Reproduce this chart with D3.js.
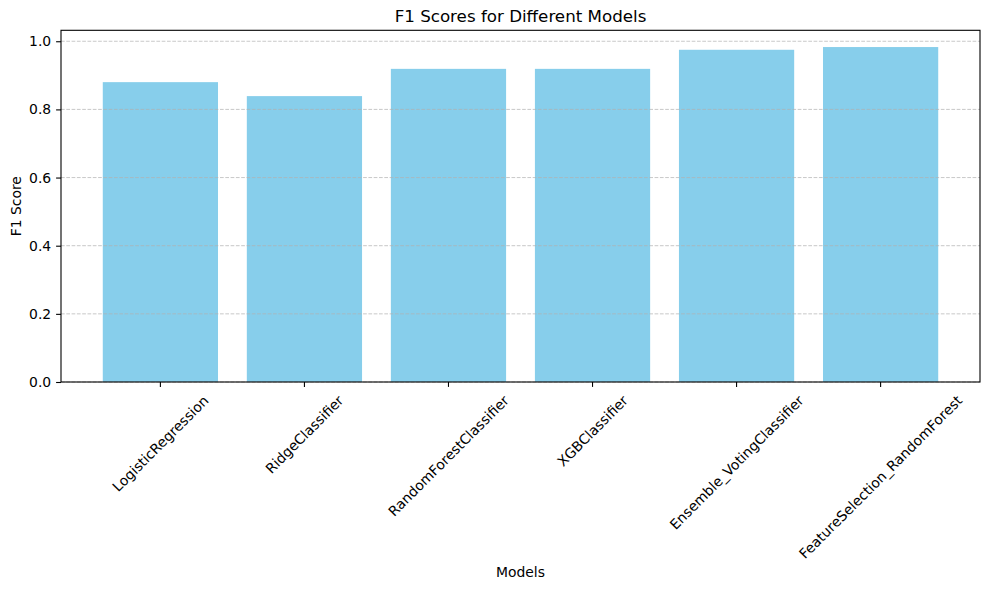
<!DOCTYPE html>
<html>
<head>
<meta charset="utf-8">
<script src="https://cdn.jsdelivr.net/npm/d3@7"></script>
<style>
  body { margin: 0; background: #fff; }
  svg { font-family: "DejaVu Sans", sans-serif; }
</style>
</head>
<body>
<svg id="chart" width="989" height="590"></svg>
<script>
// data
var models = ["LogisticRegression", "RidgeClassifier", "RandomForestClassifier",
              "XGBClassifier", "Ensemble_VotingClassifier", "FeatureSelection_RandomForest"];
var f1Scores = [0.880, 0.839, 0.919, 0.919, 0.975, 0.983];
var yTicks = [0.0, 0.2, 0.4, 0.6, 0.8, 1.0];

var svg = d3.select("#chart");
var plotLeft = 61, plotRight = 980, plotTop = 30.3, plotBottom = 382;

// linear x like matplotlib's bar positions with auto margins
var x = d3.scaleLinear().domain([-0.69, models.length - 1 + 0.69]).range([plotLeft, plotRight]);
var y = d3.scaleLinear().domain([0, d3.max(f1Scores) * 1.05]).range([plotBottom, plotTop]);

// bars
svg.append("g").selectAll("rect")
  .data(f1Scores)
  .enter().append("rect")
    .attr("x", function(d, i){ return x(i - 0.4); })
    .attr("width", x(0.4) - x(-0.4))
    .attr("y", function(d){ return y(d); })
    .attr("height", function(d){ return y(0) - y(d); })
    .style("fill", "#87CEEB");

// grid (above bars, like matplotlib)
svg.append("g").selectAll("line")
  .data(yTicks)
  .enter().append("line")
    .attr("x1", plotLeft).attr("x2", plotRight)
    .attr("y1", function(d){ return y(d); })
    .attr("y2", function(d){ return y(d); })
    .style("stroke", "#b0b0b0")
    .style("stroke-opacity", 0.7)
    .style("stroke-width", 1)
    .style("stroke-dasharray", "3.7,1.6");

// y axis
var yAxis = d3.axisLeft(y).tickValues(yTicks).tickFormat(d3.format(".1f"))
  .tickSize(4.9).tickPadding(4.9);
var gy = svg.append("g").attr("transform", "translate(" + plotLeft + ",0)").call(yAxis);
gy.select(".domain").remove();
gy.selectAll("text").style("font-size", "13.9px").style("fill", "#000")
  .style("font-family", '"DejaVu Sans", sans-serif');
gy.selectAll("line").style("stroke", "#000").style("stroke-width", 1.1);

// x ticks
var gx = svg.append("g");
gx.selectAll("line")
  .data(models)
  .enter().append("line")
    .attr("x1", function(d, i){ return x(i); })
    .attr("x2", function(d, i){ return x(i); })
    .attr("y1", plotBottom).attr("y2", plotBottom + 4.9)
    .style("stroke", "#000").style("stroke-width", 1.1);

// rotated labels: rotated bbox centered on tick, top just below tick
var labels = gx.selectAll("text")
  .data(models)
  .enter().append("text")
    .text(function(d){ return d; })
    .attr("text-anchor", "middle")
    .attr("dominant-baseline", "central")
    .style("font-size", "13.9px");
labels.each(function(d, i){
  var w = this.getComputedTextLength();
  var half = (w + 14) / Math.SQRT2 / 2;
  var cx = x(i), cy = plotBottom + 11 + half;
  d3.select(this).attr("x", cx).attr("y", cy)
    .attr("transform", "rotate(-45," + cx + "," + cy + ")");
});

// frame
svg.append("rect")
  .attr("x", plotLeft).attr("y", plotTop)
  .attr("width", plotRight - plotLeft).attr("height", plotBottom - plotTop)
  .style("fill", "none").style("stroke", "#000").style("stroke-width", 1.1);

// titles
svg.append("text")
  .attr("x", (plotLeft + plotRight) / 2).attr("y", 22)
  .attr("text-anchor", "middle")
  .style("font-size", "16.7px")
  .text("F1 Scores for Different Models");

svg.append("text")
  .attr("x", (plotLeft + plotRight) / 2).attr("y", 577)
  .attr("text-anchor", "middle")
  .style("font-size", "13.9px")
  .text("Models");

svg.append("text")
  .attr("transform", "translate(21," + ((plotTop + plotBottom) / 2) + ") rotate(-90)")
  .attr("text-anchor", "middle")
  .style("font-size", "13.9px")
  .text("F1 Score");
</script>
</body>
</html>
